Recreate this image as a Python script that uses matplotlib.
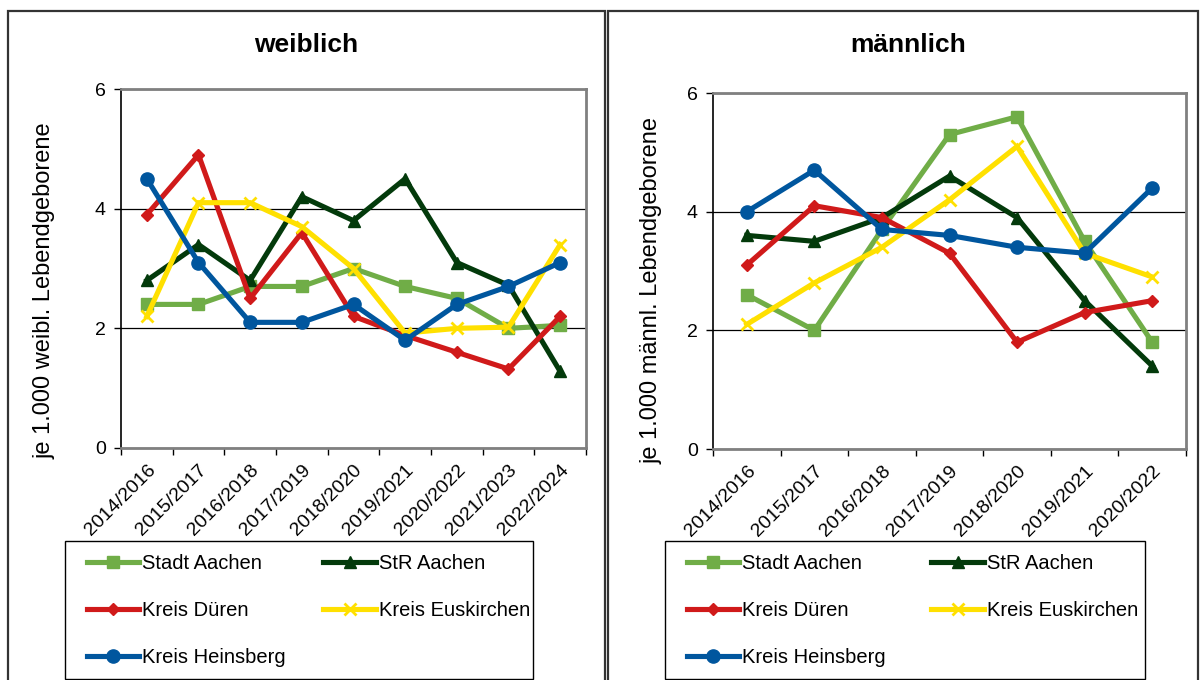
import numpy as np
import matplotlib.pyplot as plt
from matplotlib.patches import Rectangle

plt.rcParams['font.family'] = ['Liberation Sans', 'DejaVu Sans']

jahre_w = ["2014/2016", "2015/2017", "2016/2018", "2017/2019", "2018/2020",
           "2019/2021", "2020/2022", "2021/2023", "2022/2024"]
jahre_m = ["2014/2016", "2015/2017", "2016/2018", "2017/2019", "2018/2020",
           "2019/2021", "2020/2022"]

regionen = ["Stadt Aachen", "StR Aachen", "Kreis Düren", "Kreis Euskirchen", "Kreis Heinsberg"]

# weiblich
stadt_aachen_w = [2.4, 2.4, 2.7, 2.7, 3.0, 2.7, 2.5, 2.0, 2.05]
str_aachen_w = [2.8, 3.4, 2.8, 4.2, 3.8, 4.5, 3.1, 2.72, 1.28]
dueren_w = [3.9, 4.9, 2.5, 3.6, 2.2, 1.88, 1.6, 1.32, 2.2]
euskirchen_w = [2.2, 4.1, 4.1, 3.7, 3.0, 1.92, 2.0, 2.02, 3.4]
heinsberg_w = [4.5, 3.1, 2.1, 2.1, 2.4, 1.8, 2.4, 2.7, 3.1]

# männlich
stadt_aachen_m = [2.6, 2.0, 3.7, 5.3, 5.6, 3.5, 1.8]
str_aachen_m = [3.6, 3.5, 3.9, 4.6, 3.9, 2.5, 1.4]
dueren_m = [3.1, 4.1, 3.9, 3.3, 1.8, 2.3, 2.5]
euskirchen_m = [2.1, 2.8, 3.4, 4.2, 5.1, 3.3, 2.9]
heinsberg_m = [4.0, 4.7, 3.7, 3.6, 3.4, 3.3, 4.4]

farben = ["#70AD47", "#033A0B", "#D01A1A", "#FFE000", "#00569E"]
marker = ["s", "^", "D", "x", "o"]
msize = [8, 8, 6.5, 8, 9.5]

W, H = 1202, 680
fig = plt.figure(figsize=(W / 100, H / 100), dpi=100)


def px(x0, y0, x1, y1):
    # Pixelbox (oben links / unten rechts) -> Figurenkoordinaten
    return [x0 / W, 1 - y1 / H, (x1 - x0) / W, (y1 - y0) / H]


def diagramm(box, jahre, reihen, titel, titel_x, ylabel, ylabel_x, legrahmen, legbox):
    ax = fig.add_axes(px(*box))
    n = len(jahre)
    x = np.arange(n)
    linien = []
    for werte, f, m, ms, name in zip(reihen, farben, marker, msize, regionen):
        l, = ax.plot(x, werte, color=f, lw=3.7, marker=m, markersize=ms,
                     markeredgewidth=2 if m == "x" else 1, markeredgecolor=f,
                     label=name, solid_joinstyle="miter")
        linien.append(l)

    ax.set_xlim(-0.5, n - 0.5)
    ax.set_ylim(0, 6)
    ax.set_yticks([0, 2, 4, 6])
    ax.tick_params(axis="y", labelsize=14, length=5, width=1, pad=6, color="black")
    ax.set_xticks(np.arange(n + 1) - 0.5)
    ax.set_xticklabels([])
    ax.set_xticks(x, minor=True)
    ax.set_xticklabels(jahre, minor=True, rotation=45, ha="right",
                       rotation_mode="anchor", fontsize=14)
    ax.tick_params(axis="x", which="major", length=5, width=1, color="black")
    ax.tick_params(axis="x", which="minor", length=0, pad=10)
    ax.grid(axis="y", color="black", lw=0.9)
    ax.set_axisbelow(True)
    for s in ["top", "right", "bottom"]:
        ax.spines[s].set_color("#808080")
        ax.spines[s].set_linewidth(2)
    ax.spines["left"].set_color("black")
    ax.spines["left"].set_linewidth(1.2)

    fig.text(titel_x / W, 1 - 45 / H, titel, fontsize=19, fontweight="bold",
             ha="center", va="center")
    fig.text(ylabel_x / W, 1 - 291 / H, ylabel, fontsize=17, rotation=90,
             ha="center", va="center")

    # Legende zeilenweise wie im Original, Rahmen separat
    fig.patches.append(Rectangle(px(*legrahmen)[:2], *px(*legrahmen)[2:],
                                 transform=fig.transFigure, fill=False,
                                 edgecolor="black", lw=1))
    reihenfolge = [0, 2, 4, 1, 3]
    fig.legend(handles=[linien[i] for i in reihenfolge], loc="upper left",
               bbox_to_anchor=px(*legbox), mode="expand", ncol=2,
               fontsize=14.5, frameon=False, handlelength=2.6,
               handletextpad=0.15, labelspacing=1.4, borderpad=0,
               borderaxespad=0)
    return ax


diagramm((121, 89, 586, 448), jahre_w,
         [stadt_aachen_w, str_aachen_w, dueren_w, euskirchen_w, heinsberg_w],
         "weiblich", 306, "je 1.000 weibl. Lebendgeborene", 45,
         (65, 541, 533, 679), (87, 554, 530, 679))
diagramm((713, 93, 1186, 449), jahre_m,
         [stadt_aachen_m, str_aachen_m, dueren_m, euskirchen_m, heinsberg_m],
         "männlich", 908, "je 1.000 männl. Lebendgeborene", 652,
         (665, 541, 1145, 679), (687, 554, 1138, 679))

# Rahmen der beiden Teilbilder
for x0, x1 in [(8, 605), (608, 1198)]:
    fig.patches.append(Rectangle((x0 / W, -0.05), (x1 - x0) / W, 1.05 - 11 / H,
                                 transform=fig.transFigure, fill=False,
                                 edgecolor="#333333", lw=1.6))

fig.savefig("out.png", dpi=100)
